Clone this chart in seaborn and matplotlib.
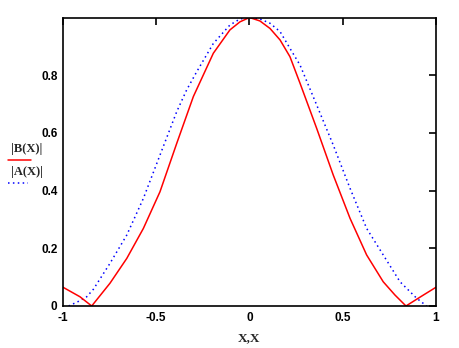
import matplotlib
matplotlib.use("Agg")
import matplotlib.pyplot as plt
from matplotlib.lines import Line2D
import seaborn as sns
import pandas as pd

# |B(X)| (red solid)
x_b = [-1.0, -0.909, -0.846, -0.748, -0.658, -0.569, -0.480, -0.390, -0.301,
       -0.194, -0.105, -0.051, 0.0, 0.056, 0.110, 0.164, 0.217, 0.271, 0.360,
       0.449, 0.539, 0.628, 0.717, 0.78, 0.839, 0.92, 1.0]
y_b = [0.065, 0.032, 0.0, 0.079, 0.165, 0.269, 0.396, 0.564, 0.726,
       0.876, 0.957, 0.985, 1.0, 0.988, 0.962, 0.922, 0.864, 0.772, 0.616,
       0.454, 0.304, 0.177, 0.084, 0.038, 0.0, 0.033, 0.065]

# |A(X)| (blue dotted)
x_a = [-0.97, -0.92, -0.873, -0.837, -0.748, -0.658, -0.569, -0.480, -0.390,
       -0.337, -0.283, -0.194, -0.105, -0.051, 0.0, 0.056, 0.110, 0.164, 0.217,
       0.271, 0.360, 0.449, 0.539, 0.628, 0.717, 0.807, 0.896, 0.95]
y_a = [0.0, 0.015, 0.032, 0.058, 0.148, 0.246, 0.373, 0.523, 0.674,
       0.749, 0.812, 0.910, 0.974, 0.995, 1.0, 0.995, 0.980, 0.951, 0.893,
       0.835, 0.697, 0.558, 0.408, 0.269, 0.177, 0.084, 0.027, 0.0]

x_ticks = [-1, -0.5, 0, 0.5, 1]
x_tick_labels = ["-1", "-0.5", "0", "0.5", "1"]
y_ticks = [0, 0.2, 0.4, 0.6, 0.8]
y_tick_labels = ["0", "0.2", "0.4", "0.6", "0.8"]

sns.set_style("white")
plt.rcParams["font.family"] = ["Liberation Sans", "DejaVu Sans"]
serif = ["Liberation Serif", "DejaVu Serif"]

fig = plt.figure(figsize=(4.6, 3.48), dpi=100)
ax = fig.add_axes([63 / 460, 42 / 348, 373 / 460, 288.5 / 348])

df_b = pd.DataFrame({"x": x_b, "y": y_b})
df_a = pd.DataFrame({"x": x_a, "y": y_a})
sns.lineplot(data=df_a, x="x", y="y", ax=ax, color="#0000ff", lw=1.1,
             linestyle=(0, (1, 2.2)), sort=False, estimator=None)
sns.lineplot(data=df_b, x="x", y="y", ax=ax, color="#ff0000", lw=1.1,
             sort=False, estimator=None)

ax.set_xlim(-1, 1)
ax.set_ylim(0, 1)
ax.set_xticks(x_ticks)
ax.set_xticklabels(x_tick_labels)
ax.set_yticks(y_ticks)
ax.set_yticklabels(y_tick_labels)
ax.tick_params(direction="in", length=5, width=1.2, top=True, right=True,
               labelsize=8.5, colors="black", pad=4)
for lab in ax.get_xticklabels() + ax.get_yticklabels():
    lab.set_fontweight("bold")
for sp in ax.spines.values():
    sp.set_visible(True)
    sp.set_color("black")
    sp.set_linewidth(1.2)
ax.set_xlabel("X,X", family=serif, fontweight="bold", fontsize=9.5, labelpad=6)
ax.set_ylabel("")

# legend at the left, outside the axes
fig.text(11 / 460, 1 - 149 / 348, "|B(X)|", family=serif,
         fontweight="bold", fontsize=9, va="center", ha="left")
fig.add_artist(Line2D([8 / 460, 31 / 460], [1 - 160 / 348, 1 - 160 / 348],
                      color="#ff0000", lw=1.1, transform=fig.transFigure))
fig.text(11 / 460, 1 - 172 / 348, "|A(X)|", family=serif,
         fontweight="bold", fontsize=9, va="center", ha="left")
fig.add_artist(Line2D([8 / 460, 28 / 460], [1 - 183 / 348, 1 - 183 / 348],
                      color="#0000ff", lw=1.1, linestyle=(0, (1, 2.2)),
                      transform=fig.transFigure))

fig.savefig("out.png", dpi=100, facecolor="white")
